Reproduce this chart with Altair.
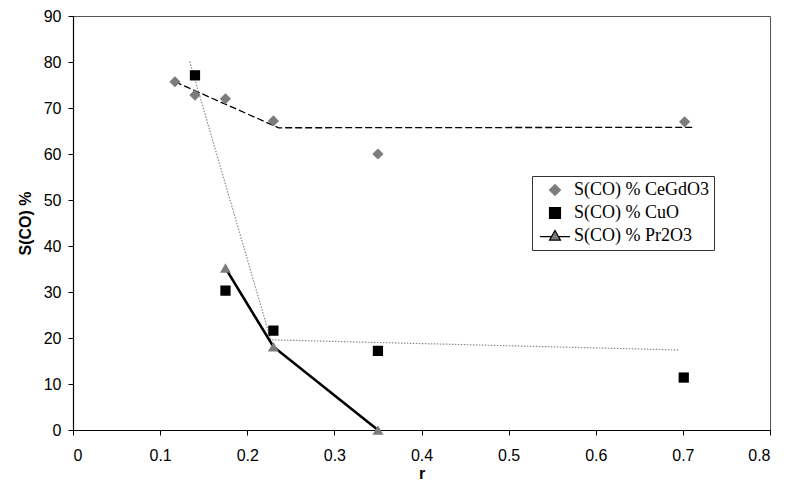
import altair as alt
import pandas as pd

# Selectivity S(CO) versus r for three catalysts
ce_r = [0.117, 0.140, 0.175, 0.230, 0.350, 0.702]
ce_s = [75.7, 72.8, 72.0, 67.2, 60.0, 67.0]

cu_r = [0.140, 0.175, 0.230, 0.350, 0.701]
cu_s = [77.1, 30.3, 21.6, 17.2, 11.4]

pr_r = [0.175, 0.230, 0.350]
pr_s = [35.2, 18.1, 0.0]

# Trend lines
ce_fit_r = [0.117, 0.236, 0.711]
ce_fit_s = [75.7, 65.7, 65.8]
cu_fit_r = [0.134, 0.227, 0.695]
cu_fit_s = [80.1, 19.6, 17.4]

series = ["S(CO) % CeGdO3", "S(CO) % CuO", "S(CO) % Pr2O3"]
gray = "#7c7c7c"

ce = pd.DataFrame({"r": ce_r, "s": ce_s})
cu = pd.DataFrame({"r": cu_r, "s": cu_s})
pr = pd.DataFrame({"r": pr_r, "s": pr_s})
ce_fit = pd.DataFrame({"r": ce_fit_r, "s": ce_fit_s})
cu_fit = pd.DataFrame({"r": cu_fit_r, "s": cu_fit_s})
legend_df = pd.DataFrame({"series": series, "r": [0, 0, 0], "s": [0, 0, 0]})

x = alt.X("r:Q", title="r",
          scale=alt.Scale(domain=[0, 0.8], nice=False, zero=True),
          axis=alt.Axis(values=[0, 0.1, 0.2, 0.3, 0.4, 0.5, 0.6, 0.7, 0.8],
                        format=".1~f", labelExpr="datum.value == 0 ? '0' : datum.label"))
y = alt.Y("s:Q", title="S(CO) %",
          scale=alt.Scale(domain=[0, 90], nice=False),
          axis=alt.Axis(values=list(range(0, 91, 10))))

ce_line = alt.Chart(ce_fit).mark_line(color="black", strokeWidth=1.3, strokeDash=[7, 3]).encode(x=x, y=y)
cu_line = alt.Chart(cu_fit).mark_line(color="#8a8a8a", strokeWidth=1.2, strokeDash=[1.5, 1.5]).encode(x=x, y=y)
pr_line = alt.Chart(pr).mark_line(color="black", strokeWidth=2.6).encode(x=x, y=y)

ce_pts = alt.Chart(ce).mark_point(shape="diamond", filled=True, color=gray, opacity=1, size=125).encode(x=x, y=y)
cu_pts = alt.Chart(cu).mark_point(shape="square", filled=True, color="black", opacity=1, size=105).encode(x=x, y=y)
pr_pts = alt.Chart(pr).mark_point(shape="triangle-up", filled=True, color=gray, opacity=1, size=120).encode(x=x, y=y)

# Legend-only layer: no rows are drawn, the scales carry the entries
tri_with_line = "M-2.75,0.12H-0.62M0.62,0.12H2.75M0,-1L1,0.75L-1,0.75Z"
legend_layer = alt.Chart(legend_df).transform_filter("datum.r > 1").mark_point(
    filled=True, opacity=1, strokeWidth=1.2
).encode(
    x=x, y=y,
    shape=alt.Shape("series:N", title=None,
                    scale=alt.Scale(domain=series, range=["diamond", "square", tri_with_line])),
    fill=alt.Fill("series:N", title=None,
                  scale=alt.Scale(domain=series, range=[gray, "black", gray])),
    stroke=alt.Stroke("series:N", title=None,
                      scale=alt.Scale(domain=series, range=[gray, "black", "black"])),
)

chart = alt.layer(
    ce_line, cu_line, pr_line, ce_pts, cu_pts, pr_pts, legend_layer
).properties(
    width=697, height=414,
    autosize=alt.AutoSizeParams(type="none"),
    padding={"left": 73, "top": 16, "right": 16, "bottom": 62},
).configure_view(
    stroke="#555555", strokeWidth=1
).configure_axis(
    grid=False, domainColor="black", domainWidth=1.2, tickColor="black", tickSize=5,
    labelFont="Liberation Sans", labelFontSize=16, labelColor="black",
    titleFont="Liberation Sans", titleFontSize=16, titleFontWeight="bold", titleColor="black",
).configure_axisY(
    labelPadding=7, titlePadding=10
).configure_axisX(
    labelPadding=12, titlePadding=2
).configure_legend(
    orient="none", legendX=459, legendY=160,
    strokeColor="#333333", fillColor="white", padding=5,
    labelFont="Liberation Serif", labelFontSize=18, labelColor="black",
    symbolSize=120, symbolStrokeWidth=1.2, labelOffset=10, rowPadding=5,
    symbolOffset=9,
)

chart.save("out.html", embed_options={"renderer": "svg", "actions": False})
